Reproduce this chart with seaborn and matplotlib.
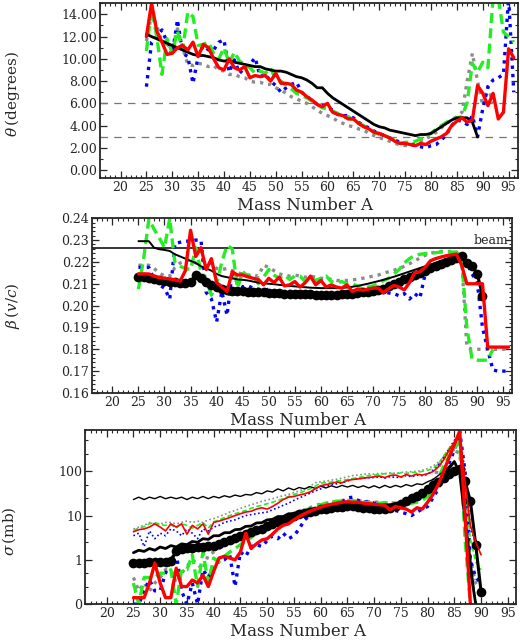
import matplotlib
matplotlib.use("Agg")
import matplotlib.pyplot as plt
import matplotlib.ticker as mticker
import seaborn as sns

# ---------------- data ----------------
# panel 1: emission angle theta (degrees) vs mass number
a_theta_black = list(range(25, 90))
theta_black = [12.2, 12.0, 11.8, 11.6, 11.4, 11.2, 11.0, 10.8, 10.6, 10.4,
               10.3, 10.3, 10.2, 10.1, 9.9, 9.8, 9.8, 9.7, 9.6, 9.5,
               9.4, 9.3, 9.3, 9.1, 9.0, 8.9, 8.9, 8.8, 8.6, 8.4,
               8.3, 8.1, 7.8, 7.4, 7.4, 6.9, 6.5, 6.2, 5.9, 5.6,
               5.3, 5.0, 4.7, 4.4, 4.1, 3.9, 3.8, 3.6, 3.5, 3.4,
               3.3, 3.2, 3.1, 3.2, 3.2, 3.3, 3.6, 3.9, 4.2, 4.5,
               4.7, 4.7, 4.7, 4.3, 3.0]
a_theta = list(range(25, 97))
theta_red = [12.0, 15.0, 12.5, 11.5, 10.4, 10.5, 11.0, 11.2, 10.8, 11.5,
             10.2, 11.3, 11.0, 10.0, 9.2, 9.0, 10.0, 9.2, 9.0, 9.3,
             8.3, 8.5, 8.4, 8.5, 8.0, 8.7, 7.8, 7.8, 7.7, 7.2,
             7.0, 6.6, 6.3, 5.9, 5.7, 6.0, 5.2, 5.0, 4.9, 4.6,
             4.6, 4.2, 3.9, 3.7, 3.4, 3.3, 3.1, 2.9, 2.6, 2.4,
             2.4, 2.3, 2.2, 2.4, 2.3, 2.6, 2.8, 3.0, 3.3, 4.0,
             4.4, 4.7, 4.3, 4.5, 7.6, 6.9, 5.8, 6.9, 4.6, 5.2,
             10.9, 10.1]
theta_green = [10.7, 14.5, 12.0, 8.6, 11.8, 10.5, 12.5, 10.8, 14.2, 13.8,
               11.2, 11.3, 11.5, 10.5, 10.0, 11.0, 9.6, 10.6, 9.8, 9.5,
               9.2, 8.7, 8.9, 8.7, 9.2, 8.1, 8.0, 7.6, 7.3, 6.9,
               6.7, 6.5, 6.2, 5.9, 5.6, 5.5, 5.3, 5.1, 4.7, 4.8,
               4.5, 4.2, 4.0, 3.7, 3.4, 3.2, 3.1, 2.9, 2.7, 2.4,
               2.5, 2.5, 2.6, 2.8, 3.0, 3.3, 3.7, 4.0, 4.3, 4.6,
               4.7, 4.8, 6.1, 9.6, 8.8, 9.7, 9.2, 15.5, 15.5, 12.4,
               12.0, 11.5]
theta_blue = [7.5, 11.5, 12.0, 12.6, 11.5, 10.4, 13.5, 10.5, 10.2, 7.8,
              10.2, 11.2, 10.8, 10.8, 11.5, 11.7, 8.8, 9.9, 8.7, 9.2,
              9.5, 10.1, 8.4, 8.6, 8.0, 7.6, 7.0, 7.4, 7.7, 7.9,
              7.0, 6.6, 6.3, 5.9, 5.8, 5.6, 5.4, 5.0, 4.9, 4.9,
              4.7, 4.3, 4.0, 3.8, 3.5, 3.3, 3.1, 2.9, 2.7, 2.5,
              2.4, 2.3, 2.2, 2.1, 2.0, 2.2, 2.3, 2.7, 3.2, 4.0,
              4.5, 4.4, 4.1, 4.9, 3.0, 5.5, 7.5, 8.1, 8.3, 8.6,
              15.5, 7.0]
a_theta_gray = list(range(25, 93))
theta_gray = [11.6, 14.0, 13.0, 11.5, 11.5, 10.8, 12.7, 11.0, 9.5, 9.4,
              9.6, 9.5, 9.3, 9.4, 9.0, 8.9, 8.6, 8.6, 8.4, 8.3,
              8.0, 7.9, 7.9, 7.7, 7.7, 7.4, 7.2, 6.9, 6.6, 6.4,
              6.2, 6.0, 5.7, 5.4, 5.1, 4.9, 4.7, 4.4, 4.2, 4.0,
              3.9, 3.7, 3.6, 3.3, 3.1, 2.9, 2.8, 2.6, 2.4, 2.3,
              2.2, 2.3, 2.4, 2.6, 2.8, 3.1, 3.4, 3.8, 4.2, 4.5,
              4.8, 5.2, 8.0, 10.5, 8.0, 5.8, 7.5, 6.0]
theta_refs = [6.0, 3.0]

# panel 2: velocity beta (v/c)
beam_beta = 0.2263
a_beta_dots = list(range(25, 92))
beta_dots = [0.2130, 0.2130, 0.2128, 0.2120, 0.2115, 0.2112, 0.2110, 0.2108, 0.2105, 0.2105,
             0.2108, 0.2140, 0.2125, 0.2110, 0.2095, 0.2085, 0.2078, 0.2072, 0.2068, 0.2066,
             0.2065, 0.2064, 0.2063, 0.2062, 0.2060, 0.2058, 0.2057, 0.2056, 0.2055, 0.2054,
             0.2053, 0.2053, 0.2052, 0.2051, 0.2050, 0.2050, 0.2050, 0.2050, 0.2050, 0.2051,
             0.2052, 0.2055, 0.2056, 0.2060, 0.2064, 0.2068, 0.2072, 0.2078, 0.2088, 0.2098,
             0.2110, 0.2120, 0.2130, 0.2140, 0.2150, 0.2160, 0.2170, 0.2180, 0.2190, 0.2200,
             0.2210, 0.2218, 0.2225, 0.2195, 0.2180, 0.2146, 0.2046]
a_beta_black = list(range(25, 90))
beta_black = [0.2295, 0.2295, 0.2295, 0.2265, 0.2258, 0.2255, 0.2250, 0.2235, 0.2225, 0.2215,
              0.2205, 0.2195, 0.2180, 0.2170, 0.2160, 0.2145, 0.2135, 0.2130, 0.2125, 0.2120,
              0.2118, 0.2115, 0.2110, 0.2105, 0.2102, 0.2100, 0.2098, 0.2095, 0.2093, 0.2090,
              0.2088, 0.2086, 0.2084, 0.2082, 0.2081, 0.2080, 0.2080, 0.2080, 0.2080, 0.2081,
              0.2083, 0.2086, 0.2090, 0.2095, 0.2100, 0.2106, 0.2112, 0.2118, 0.2125, 0.2132,
              0.2140, 0.2148, 0.2156, 0.2164, 0.2172, 0.2180, 0.2188, 0.2196, 0.2204, 0.2212,
              0.2220, 0.2226, 0.2230, 0.2200, 0.2170]
a_beta = list(range(25, 97))
beta_red = [0.2145, 0.2145, 0.2145, 0.2135, 0.2128, 0.2125, 0.2122, 0.2118, 0.2112, 0.2160,
            0.2345, 0.2225, 0.2265, 0.2165, 0.2215, 0.2105, 0.2085, 0.2065, 0.2155, 0.2140,
            0.2140, 0.2132, 0.2125, 0.2120, 0.2095, 0.2125, 0.2105, 0.2130, 0.2090, 0.2095,
            0.2110, 0.2085, 0.2105, 0.2135, 0.2095, 0.2115, 0.2085, 0.2095, 0.2085, 0.2080,
            0.2095, 0.2065, 0.2075, 0.2070, 0.2075, 0.2080, 0.2080, 0.2058, 0.2078, 0.2092,
            0.2085, 0.2072, 0.2105, 0.2150, 0.2155, 0.2175, 0.2205, 0.2215, 0.2222, 0.2228,
            0.2232, 0.2236, 0.2185, 0.2100, 0.2100, 0.2100, 0.2100, 0.1810, 0.1810, 0.1810,
            0.1810, 0.1810]
a_beta_green = list(range(25, 94))
beta_green = [0.2075, 0.2215, 0.2395, 0.2350, 0.2310, 0.2265, 0.2400, 0.2195, 0.2180, 0.2170,
              0.2165, 0.2265, 0.2155, 0.2120, 0.2048, 0.2100, 0.2200, 0.2275, 0.2260, 0.2080,
              0.2155, 0.2135, 0.2135, 0.2100, 0.2130, 0.2165, 0.2140, 0.2125, 0.2140, 0.2120,
              0.2135, 0.2135, 0.2110, 0.2125, 0.2115, 0.2125, 0.2135, 0.2110, 0.2105, 0.2110,
              0.2100, 0.2100, 0.2090, 0.2075, 0.2085, 0.2090, 0.2100, 0.2115, 0.2125, 0.2145,
              0.2165, 0.2195, 0.2215, 0.2230, 0.2235, 0.2238, 0.2240, 0.2242, 0.2245, 0.2245,
              0.2245, 0.2245, 0.2215, 0.1900, 0.1755, 0.1750, 0.1750, 0.1750, 0.1800]
beta_blue = [0.2175, 0.2175, 0.2175, 0.2120, 0.2095, 0.2080, 0.2030, 0.2285, 0.2290, 0.2295,
             0.2295, 0.2300, 0.2300, 0.2060, 0.2030, 0.1925, 0.2065, 0.1955, 0.2155, 0.2100,
             0.2085, 0.2090, 0.2080, 0.2075, 0.2070, 0.2075, 0.2065, 0.2070, 0.2060, 0.2065,
             0.2060, 0.2065, 0.2055, 0.2060, 0.2055, 0.2050, 0.2048, 0.2045, 0.2045, 0.2048,
             0.2050, 0.2055, 0.2060, 0.2062, 0.2065, 0.2060, 0.2058, 0.2062, 0.2058, 0.2055,
             0.2045, 0.2055, 0.2030, 0.2055, 0.2035, 0.2145, 0.2170, 0.2190, 0.2200, 0.2210,
             0.2215, 0.2218, 0.2215, 0.2195, 0.2145, 0.2105, 0.1900, 0.1800, 0.1705, 0.1700,
             0.1700, 0.1700]
beta_gray = [0.2185, 0.2185, 0.2185, 0.2170, 0.2150, 0.2135, 0.2135, 0.2175, 0.2195, 0.2205,
             0.2210, 0.2195, 0.2205, 0.2210, 0.2190, 0.2170, 0.2165, 0.2170, 0.2160, 0.2150,
             0.2145, 0.2140, 0.2140, 0.2135, 0.2185, 0.2175, 0.2160, 0.2145, 0.2140, 0.2135,
             0.2140, 0.2135, 0.2130, 0.2135, 0.2130, 0.2125, 0.2125, 0.2120, 0.2115, 0.2115,
             0.2115, 0.2118, 0.2120, 0.2125, 0.2130, 0.2135, 0.2140, 0.2148, 0.2155, 0.2162,
             0.2170, 0.2180, 0.2192, 0.2205, 0.2218, 0.2230, 0.2240, 0.2245, 0.2248, 0.2248,
             0.2248, 0.2245, 0.2220, 0.1810, 0.1800, 0.1800, 0.1800, 0.1800, 0.1800, 0.1800,
             0.1800, 0.1800]

# panel 3: cross section sigma (mb), log scale ("0" = 0.1 floor)
a_sig_89 = list(range(25, 90))
a_sig_90 = list(range(25, 91))
a_sig_88 = list(range(25, 89))
sig_black_thin = [23, 26, 23, 26, 24, 27, 24, 26, 24, 26,
                  23, 26, 24, 27, 24, 27, 25, 28, 26, 29,
                  27, 30, 29, 33, 31, 36, 34, 40, 36, 42,
                  38, 43, 40, 45, 41, 46, 42, 47, 43, 48,
                  44, 48, 43, 47, 42, 47, 42, 48, 43, 48,
                  44, 50, 46, 52, 50, 58, 65, 80, 100, 130,
                  170, 90, 10, 1.2, 0.1]
sig_black = [1.45, 1.65, 1.55, 1.8, 1.65, 1.95, 1.8, 2.1, 1.95, 2.3,
             2.2, 2.6, 2.5, 3.0, 2.9, 3.5, 3.5, 4.1, 4.1, 4.8,
             4.9, 5.7, 5.8, 6.8, 6.9, 8.0, 8.2, 9.5, 9.5, 11.0,
             11.0, 12.5, 12.5, 14.0, 14.0, 15.5, 15.5, 16.5, 16.5, 17.0,
             17.0, 17.5, 17.5, 17.5, 17.0, 17.5, 17.0, 17.5, 17.5, 18.5,
             19.5, 21.0, 23.0, 27.0, 31.0, 36.0, 45.0, 57.0, 80.0, 115.0,
             165.0, 90.0, 8.0, 0.6, 0.1]
sig_dots = [0.86, 0.86, 0.87, 0.88, 0.89, 0.90, 0.91, 0.95, 1.6, 1.75,
            1.85, 1.9, 1.95, 2.0, 2.05, 2.1, 2.3, 2.5, 2.8, 3.1,
            3.4, 3.8, 4.2, 4.6, 5.1, 5.8, 6.4, 7.2, 8.0, 8.8,
            9.8, 10.6, 11.4, 12.2, 13.0, 13.8, 14.4, 15.0, 15.5, 16.0,
            16.2, 16.2, 15.8, 15.2, 14.6, 14.2, 14.2, 14.4, 15.0, 16.5,
            18.5, 21.0, 24.5, 28.0, 33.0, 40.0, 48.0, 58.0, 70.0, 85.0,
            100.0, 110.0, 60.0, 21.0, 2.2, 0.19]
sig_red_thin = [4.3, 4.8, 5.0, 5.5, 6.5, 5.5, 4.5, 6.5, 5.5, 6.5,
                3.8, 6.0, 5.0, 6.5, 3.8, 7.0, 7.5, 8.2, 9.0, 10.0,
                11.0, 12.0, 12.5, 14.0, 15.0, 14.0, 16.0, 19.0, 23.0, 26.0,
                27.0, 29.0, 31.0, 34.0, 40.0, 47.0, 50.0, 53.0, 57.0, 55.0,
                62.0, 65.0, 67.0, 70.0, 72.0, 75.0, 78.0, 72.0, 80.0, 82.0,
                74.0, 84.0, 78.0, 86.0, 82.0, 88.0, 98.0, 125.0, 180.0, 300.0,
                450.0, 750.0, 60.0, 6.0, 2.5, 1.3]
sig_green_thin = [4.6, 5.2, 5.6, 6.5, 7.0, 6.2, 6.0, 6.2, 5.2, 6.5,
                  6.0, 5.2, 6.0, 7.0, 5.2, 7.2, 8.0, 9.0, 10.0, 11.0,
                  12.0, 13.0, 14.5, 16.0, 17.0, 18.5, 20.0, 22.0, 24.0, 27.0,
                  30.0, 32.0, 36.0, 40.0, 46.0, 54.0, 55.0, 57.0, 60.0, 62.0,
                  65.0, 68.0, 72.0, 76.0, 80.0, 82.0, 85.0, 88.0, 90.0, 86.0,
                  92.0, 88.0, 95.0, 92.0, 100.0, 105.0, 115.0, 145.0, 220.0, 330.0,
                  420.0, 500.0, 40.0, 3.0, 0.9, 0.6]
sig_blue_thin = [3.5, 4.0, 2.0, 4.5, 3.0, 4.0, 3.5, 5.0, 4.5, 3.5,
                 5.0, 4.0, 3.0, 5.0, 4.5, 5.5, 6.0, 7.0, 7.5, 8.0,
                 9.0, 10.0, 10.5, 11.0, 11.5, 12.0, 13.5, 15.0, 17.0, 19.0,
                 22.0, 25.0, 28.0, 32.0, 36.0, 40.0, 45.0, 50.0, 52.0, 55.0,
                 60.0, 68.0, 68.0, 70.0, 72.0, 72.0, 75.0, 70.0, 76.0, 72.0,
                 74.0, 80.0, 75.0, 82.0, 80.0, 85.0, 105.0, 140.0, 200.0, 320.0,
                 500.0, 650.0, 100.0, 5.0, 2.5, 2.2]
sig_gray_thin = [5.0, 5.5, 6.0, 7.0, 6.5, 6.5, 7.0, 7.0, 6.5, 7.0,
                 7.5, 7.0, 7.5, 7.0, 8.0, 8.5, 9.5, 10.5, 12.0, 13.0,
                 14.5, 16.0, 17.5, 19.0, 21.0, 22.5, 24.0, 26.0, 28.0, 30.0,
                 33.0, 36.0, 40.0, 46.0, 55.0, 58.0, 60.0, 63.0, 66.0, 70.0,
                 75.0, 80.0, 82.0, 85.0, 88.0, 86.0, 90.0, 88.0, 92.0, 90.0,
                 94.0, 96.0, 98.0, 100.0, 105.0, 115.0, 130.0, 160.0, 200.0, 250.0,
                 300.0, 250.0, 20.0, 1.0, 0.3]
sig_red = [0.14, 0.14, 0.14, 0.3, 0.85, 0.3, 0.14, 0.14, 0.65, 0.25,
           0.25, 0.35, 0.3, 0.45, 0.25, 0.55, 1.1, 1.2, 1.1, 1.0,
           1.5, 4.0, 1.8, 2.3, 2.8, 3.0, 3.8, 5.0, 6.0, 6.5,
           8.0, 9.5, 11.0, 12.5, 14.0, 15.5, 17.0, 18.0, 19.0, 20.0,
           20.5, 20.0, 20.0, 19.0, 18.5, 18.0, 17.5, 17.0, 13.5, 16.0,
           15.0, 14.0, 12.0, 15.0, 14.0, 20.0, 30.0, 50.0, 100.0, 200.0,
           400.0, 800.0, 10.0, 0.1]
sig_green = [0.3, 0.1, 0.4, 0.4, 0.4, 0.5, 0.5, 0.6, 0.1, 0.6,
             0.6, 1.3, 0.25, 1.5, 0.3, 1.1, 0.9, 1.2, 1.5, 1.8,
             2.2, 2.7, 3.2, 4.0, 4.5, 5.0, 6.0, 7.0, 8.0, 9.0,
             10.0, 11.5, 13.0, 14.5, 16.0, 17.5, 19.0, 20.0, 21.0, 21.5,
             22.0, 21.5, 21.0, 20.0, 19.5, 19.0, 19.0, 19.5, 19.0, 18.5,
             18.0, 18.5, 19.0, 20.0, 22.0, 27.0, 40.0, 70.0, 130.0, 220.0,
             330.0, 450.0, 3.0, 0.1]
sig_blue = [0.1, 0.1, 0.2, 0.35, 0.2, 0.2, 0.5, 1.0, 1.5, 0.2,
            0.1, 0.3, 0.1, 0.6, 0.4, 0.8, 0.9, 1.0, 1.3, 0.25,
            1.5, 1.2, 2.0, 2.2, 2.0, 2.7, 3.5, 3.0, 4.0, 3.0,
            3.5, 5.0, 8.0, 10.0, 12.0, 14.0, 15.0, 17.0, 18.0, 20.0,
            25.0, 26.0, 22.0, 20.0, 21.0, 19.0, 18.0, 18.0, 14.0, 13.0,
            12.0, 11.0, 10.0, 12.0, 14.0, 16.0, 25.0, 40.0, 80.0, 150.0,
            300.0, 800.0, 100.0, 1.0, 0.4, 0.3]
sig_gray = [0.4, 0.2, 0.3, 0.2, 0.3, 0.4, 0.6, 0.6, 0.3, 0.5,
            0.7, 1.0, 0.8, 0.6, 1.3, 1.5, 1.8, 2.2, 2.5, 3.0,
            3.3, 3.7, 4.3, 4.8, 5.4, 6.0, 6.8, 7.6, 8.5, 9.5,
            10.5, 12.0, 13.5, 15.0, 17.0, 18.0, 19.0, 20.0, 21.0, 22.0,
            22.0, 22.0, 21.5, 21.0, 20.5, 20.0, 20.0, 19.5, 19.5, 19.0,
            19.0, 20.0, 22.0, 25.0, 28.0, 35.0, 60.0, 120.0, 200.0, 280.0,
            300.0, 250.0, 20.0, 1.0, 0.3, 0.2]

x_ticks = list(range(20, 100, 5))

# ---------------- style ----------------
sns.set_style("ticks")
plt.rcParams["font.family"] = ["DejaVu Serif"]
plt.rcParams["mathtext.fontset"] = "dejavuserif"
plt.rcParams["xtick.direction"] = "in"
plt.rcParams["ytick.direction"] = "in"

RED, GREEN, BLUE, GRAY = "#ff0000", "#22ee22", "#0000ff", "#8c8c8c"
DASH = (0, (3.0, 1.6))
DOT = (0, (1.0, 1.5))


def line(ax, x, y, color, lw=2.4, ls="-", **kw):
    sns.lineplot(x=x, y=y, ax=ax, color=color, linewidth=lw, linestyle=ls, **kw)


def frame(ax, xlim):
    ax.set_xlim(*xlim)
    ax.set_xticks(x_ticks)
    ax.xaxis.set_minor_locator(mticker.MultipleLocator(1))
    ax.tick_params(which="both", top=True, right=True, labelsize=9, pad=2)
    ax.tick_params(which="major", length=5, width=0.9)
    ax.tick_params(which="minor", length=2.5, width=0.8)
    for s in ax.spines.values():
        s.set_linewidth(1.3)
    ax.set_xlabel("Mass Number A", fontsize=12)


fig = plt.figure(figsize=(5.2, 6.4), dpi=100)
ax1 = fig.add_axes([0.192, 0.722, 0.804, 0.273])
ax2 = fig.add_axes([0.177, 0.386, 0.808, 0.273])
ax3 = fig.add_axes([0.163, 0.056, 0.829, 0.272])

# panel 1
for r in theta_refs:
    ax1.axhline(r, color="#777777", lw=0.9, ls=(0, (6, 5)))
line(ax1, a_theta_gray, theta_gray, GRAY, ls=DOT)
line(ax1, a_theta, theta_blue, BLUE, ls=DOT)
line(ax1, a_theta, theta_green, GREEN, ls=DASH)
line(ax1, a_theta_black, theta_black, "black", lw=2.0)
line(ax1, a_theta, theta_red, RED)
frame(ax1, (16.0, 96.8))
ax1.set_ylim(-0.7, 15.0)
ax1.set_yticks(range(0, 15, 2))
ax1.yaxis.set_minor_locator(mticker.MultipleLocator(1))
ax1.yaxis.set_major_formatter(mticker.FormatStrFormatter("%.2f"))
ax1.set_ylabel(r"$\theta\,$(degrees)", fontsize=11)
ax1.yaxis.set_label_coords(-0.187, 0.48)
ax1.xaxis.set_label_coords(0.49, -0.108)

# panel 2
ax2.axhline(beam_beta, color="black", lw=1.1)
ax2.text(0.99, beam_beta + 0.0007, "beam", transform=ax2.get_yaxis_transform(),
         ha="right", va="bottom", fontsize=9)
line(ax2, a_beta, beta_gray, GRAY, ls=DOT)
line(ax2, a_beta, beta_blue, BLUE, ls=DOT)
line(ax2, a_beta_green, beta_green, GREEN, ls=DASH)
line(ax2, a_beta_black, beta_black, "black", lw=1.4)
line(ax2, a_beta_dots, beta_dots, "black", lw=2.2, marker="o", markersize=7, markeredgewidth=0)
line(ax2, a_beta, beta_red, RED)
frame(ax2, (16.1, 96.7))
ax2.set_ylim(0.16, 0.24)
ax2.set_yticks([0.16 + 0.01 * i for i in range(9)])
ax2.yaxis.set_minor_locator(mticker.MultipleLocator(0.002))
ax2.yaxis.set_major_formatter(mticker.FormatStrFormatter("%.2f"))
ax2.set_ylabel(r"$\beta\,(v/c)$", fontsize=11)
ax2.yaxis.set_label_coords(-0.167, 0.5)
ax2.xaxis.set_label_coords(0.49, -0.108)

# panel 3
ax3.set_yscale("log")
line(ax3, a_sig_90, sig_gray, GRAY, ls=DOT)
line(ax3, a_sig_89, sig_gray_thin, GRAY, lw=1.2, ls=DOT)
line(ax3, a_sig_90, sig_blue, BLUE, ls=DOT)
line(ax3, a_sig_90, sig_blue_thin, BLUE, lw=1.2, ls=DOT)
line(ax3, a_sig_88, sig_green, GREEN, ls=DASH)
line(ax3, a_sig_90, sig_green_thin, GREEN, lw=1.2, ls=DASH)
line(ax3, a_sig_89, sig_black_thin, "black", lw=1.0)
line(ax3, a_sig_89, sig_black, "black", lw=2.0)
line(ax3, a_sig_90, sig_dots, "black", lw=2.2, marker="o", markersize=7, markeredgewidth=0)
line(ax3, a_sig_90, sig_red_thin, RED, lw=1.2)
line(ax3, a_sig_88, sig_red, RED)
frame(ax3, (15.9, 96.5))
ax3.set_ylim(0.1, 850)
ax3.set_yticks([0.1, 1, 10, 100])
ax3.set_yticklabels(["0", "1", "10", "100"])
ax3.yaxis.set_minor_locator(mticker.LogLocator(subs=(2.5, 5.0)))
ax3.yaxis.set_minor_formatter(mticker.NullFormatter())
ax3.set_ylabel(r"$\sigma\,$(mb)", fontsize=11)
ax3.yaxis.set_label_coords(-0.155, 0.42)
ax3.xaxis.set_label_coords(0.494, -0.11)

fig.savefig("out.png", dpi=100)
